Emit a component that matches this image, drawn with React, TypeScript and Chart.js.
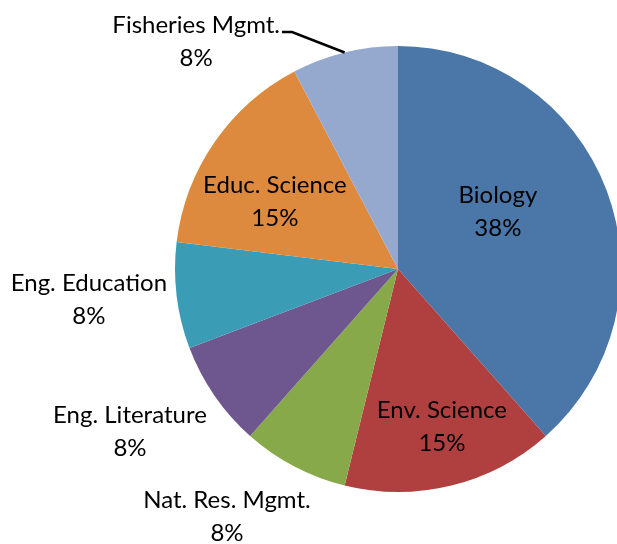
import React, { useEffect, useRef } from "react";
import { Chart, registerables } from "chart.js";

Chart.register(...registerables);

const categories = [
  "Biology",
  "Env. Science",
  "Nat. Res. Mgmt.",
  "Eng. Literature",
  "Eng. Education",
  "Educ. Science",
  "Fisheries Mgmt.",
];
const counts = [5, 2, 1, 1, 1, 2, 1];
const colors = ["#4A76A8", "#B0403F", "#88A94A", "#6E568F", "#3B9CB5", "#DE8A3E", "#95A9CF"];

// label anchor (centre of the two text lines) in units of pie radius, relative to pie centre
const labelAnchors: [number, number][] = [
  [0.448, -0.256],
  [0.197, 0.709],
  [-0.767, 1.112],
  [-1.202, 0.731],
  [-1.386, 0.139],
  [-0.552, -0.3],
  [-0.905, -1.02],
];
const leaderSlices = [6];

const FONT = "Lato";
const FONT_SIZE = 24;
const LINE_H = 33;

const labelPlugin = {
  id: "pieLabels",
  afterDatasetsDraw(chart: any) {
    const ctx = chart.ctx;
    const meta = chart.getDatasetMeta(0);
    const data = chart.data.datasets[0].data as number[];
    const total = data.reduce((a, b) => a + b, 0);
    ctx.save();
    ctx.font = `${FONT_SIZE}px ${FONT}`;
    ctx.fillStyle = "#000";
    ctx.textAlign = "center";
    ctx.textBaseline = "middle";
    meta.data.forEach((arc: any, i: number) => {
      const { x, y, outerRadius, startAngle, endAngle } = arc.getProps(
        ["x", "y", "outerRadius", "startAngle", "endAngle"],
        true
      );
      const r = outerRadius;
      const lx = x + labelAnchors[i][0] * r;
      const ly = y + labelAnchors[i][1] * r;
      const pct = Math.round((data[i] / total) * 100) + "%";
      ctx.fillText(chart.data.labels[i], lx, ly - LINE_H / 2);
      ctx.fillText(pct, lx, ly + LINE_H / 2);
      if (leaderSlices.includes(i)) {
        const mid = (startAngle + endAngle) / 2;
        const ex = x + Math.cos(mid) * r;
        const ey = y + Math.sin(mid) * r;
        const w = ctx.measureText(chart.data.labels[i]).width;
        const sx = lx + w / 2 + 2;
        const sy = ly - LINE_H / 2 + 7;
        ctx.beginPath();
        ctx.strokeStyle = "#000";
        ctx.lineWidth = 2.5;
        ctx.moveTo(sx, sy);
        ctx.lineTo(sx + 10, sy);
        ctx.lineTo(ex, ey);
        ctx.stroke();
      }
    });
    ctx.restore();
  },
};

export default function App() {
  const ref = useRef<HTMLCanvasElement>(null);
  useEffect(() => {
    if (!ref.current) return;
    const chart = new Chart(ref.current, {
      type: "pie",
      data: {
        labels: categories,
        datasets: [
          {
            data: counts,
            backgroundColor: colors,
            borderWidth: 0,
          },
        ],
      },
      options: {
        responsive: false,
        animation: false,
        layout: { padding: { left: 175, right: 19, top: 46, bottom: 52 } },
        plugins: {
          legend: { display: false },
          tooltip: { enabled: false },
        },
      },
      plugins: [labelPlugin],
    });
    return () => chart.destroy();
  }, []);
  return (
    <div style={{ position: "fixed", left: 0, top: 0, width: 617, height: 544, overflow: "hidden", background: "#fff" }}>
      <canvas ref={ref} width={640} height={544} style={{ width: 640, height: 544, display: "block" }} />
    </div>
  );
}
